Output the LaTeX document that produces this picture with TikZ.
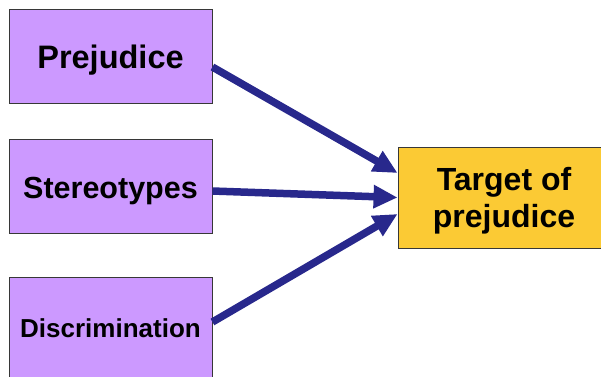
\documentclass[tikz,border=0pt]{standalone}
\usepackage{fontspec}
\setmainfont{Liberation Sans}
\usetikzlibrary{arrows.meta}
\definecolor{boxpurple}{RGB}{204,153,255}
\definecolor{boxyellow}{RGB}{251,202,52}
\definecolor{arrowblue}{RGB}{40,40,140}
\definecolor{edgegray}{RGB}{55,55,55}
\begin{document}
\begin{tikzpicture}[x=1pt,y=-1pt,
  srcbox/.style={draw=edgegray, line width=0.9pt, fill=boxpurple, minimum width=203pt, inner sep=0pt, text depth=0pt},
  tgtbox/.style={draw=edgegray, line width=0.9pt, fill=boxyellow, minimum width=210pt, minimum height=101pt, inner sep=0pt},
  arr/.style={draw=arrowblue, line width=7.5pt, -{Triangle[length=24pt,width=22pt]}}]
\useasboundingbox (0,0) rectangle (601,376);
\clip (0,0) rectangle (601,376);
\node[srcbox, minimum height=94pt, text height=25.4pt, font=\fontsize{32.5}{36}\selectfont\bfseries] (pre) at (110.5,56) {Prejudice};
\node[srcbox, minimum height=94pt, text height=24.6pt, font=\fontsize{30.5}{34}\selectfont\bfseries] (ster) at (110.5,186) {Stereotypes};
\node[srcbox, minimum height=104pt, text height=16.6pt, font=\fontsize{26}{30}\selectfont\bfseries] (disc) at (110.5,329) {Discrimination};
\node[tgtbox] (tgt) at (503,197.5) {};
\node[inner sep=0pt, align=center, font=\fontsize{32}{37}\selectfont\bfseries] (tgttext) at (504,201) {Target of\\prejudice};
\draw[arr] ([yshift=-11pt]pre.east) -- ([yshift=24.5pt]tgt.west);
\draw[arr] ([yshift=-5pt]ster.east) -- (tgt.west);
\draw[arr] ([yshift=7pt]disc.east) -- ([yshift=-16.5pt]tgt.west);
\end{tikzpicture}
\end{document}
